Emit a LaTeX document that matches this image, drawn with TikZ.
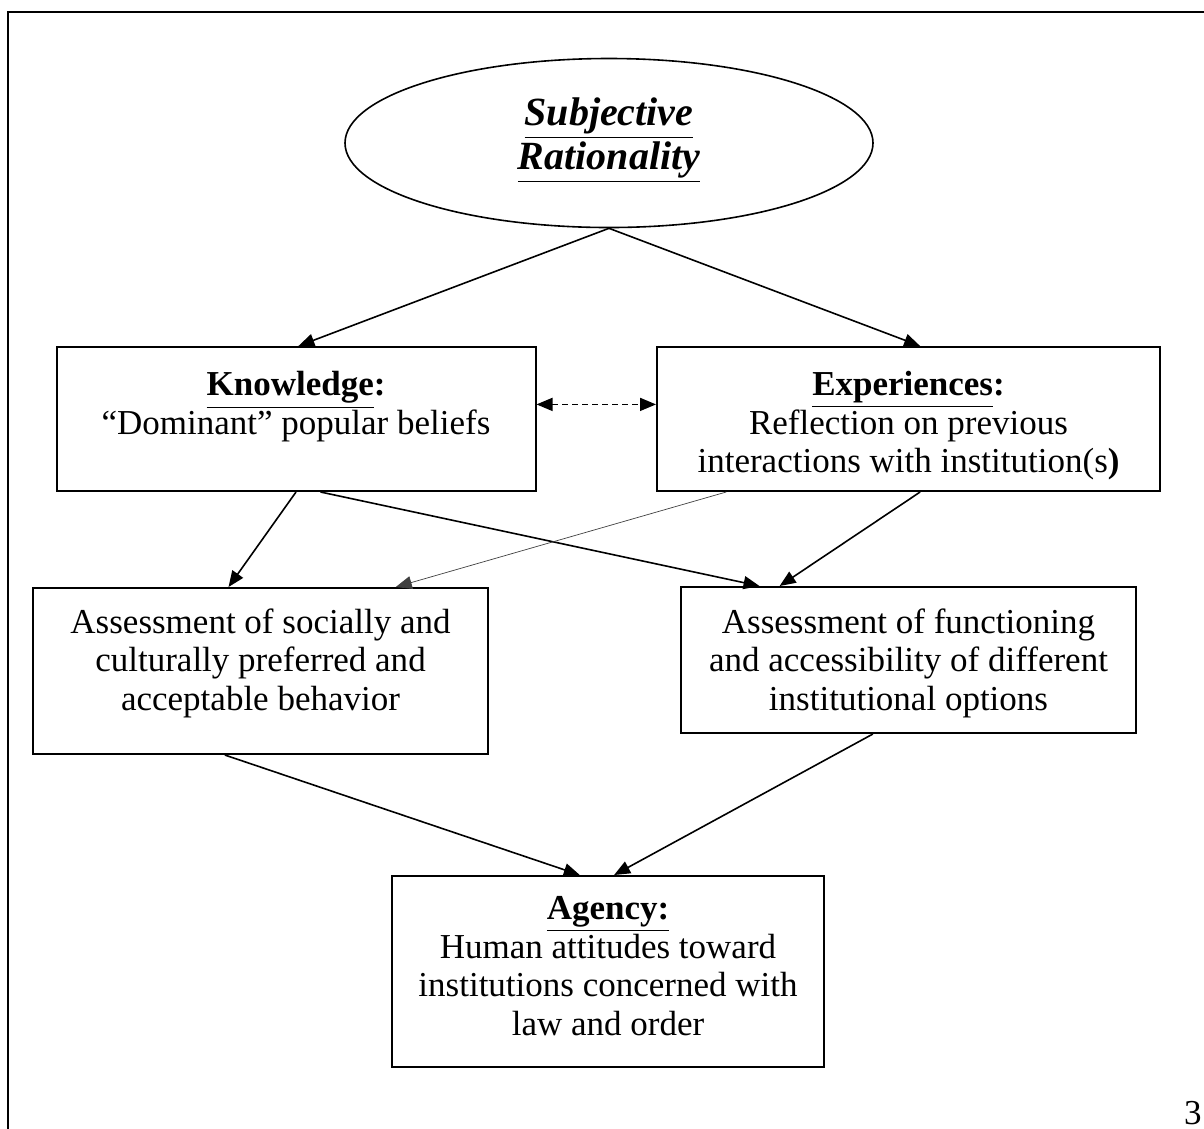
\documentclass[tikz,border=0pt]{standalone}
\usepackage{fontspec}
\setmainfont{Liberation Serif}
\usetikzlibrary{arrows.meta,calc,shapes.geometric}
\newcommand\pxu{0.4pt}
\tikzset{
  box/.style={draw, line width=2*\pxu, inner sep=0pt},
  txt/.style={align=center, inner sep=0pt, anchor=north, font=\fontsize{14pt}{15.4pt}\selectfont},
  arr/.style={line width=1.6*\pxu, -{Triangle[length=16*\pxu, width=13*\pxu]}},
  thinarr/.style={line width=0.7*\pxu, draw=black!75, -{Triangle[length=16*\pxu, width=13*\pxu]}},
  dasharr/.style={line width=1.6*\pxu, dash pattern=on 6*\pxu off 4*\pxu, {Triangle[length=16*\pxu, width=13*\pxu]}-{Triangle[length=16*\pxu, width=13*\pxu]}},
}
\begin{document}
\begin{tikzpicture}[x=\pxu, y=-\pxu]
\useasboundingbox (0,0) rectangle (1204,1128);
\clip (0,0) rectangle (1204,1128);
% frame
\draw[line width=2*\pxu] (8,1140) -- (8,12) -- (1220,12);
% nodes
\node[draw, ellipse, line width=1.6*\pxu, inner sep=0pt, minimum width=528*\pxu, minimum height=169*\pxu] (rat) at (609,143) {};
\node[txt, font=\fontsize{16pt}{16.5pt}\selectfont\bfseries\itshape] (ratT) at (609,97) {\underline{Subjective}\\\underline{Rationality}};

\node[box, minimum width=479*\pxu, minimum height=144*\pxu] (know) at (296,419) {};
\node[txt] (knowT) at (296,371) {\textbf{\underline{Knowledge}:}\\“Dominant” popular beliefs};

\node[box, minimum width=503*\pxu, minimum height=144*\pxu] (exp) at (908.5,419) {};
\node[txt] (expT) at (908.5,371) {\textbf{\underline{Experiences}:}\\Reflection on previous\\interactions with institution(s\textbf{)}};

\node[box, minimum width=455*\pxu, minimum height=166*\pxu] (soc) at (260.5,671) {};
\node[txt] (socT) at (260.5,608) {Assessment of socially and\\culturally preferred and\\acceptable behavior};

\node[box, minimum width=455*\pxu, minimum height=146*\pxu] (fun) at (908.5,660) {};
\node[txt] (funT) at (908.5,608) {Assessment of functioning\\and accessibility of different\\institutional options};

\node[box, minimum width=432*\pxu, minimum height=191*\pxu] (agc) at (608,971.5) {};
\node[txt] (agcT) at (608,896) {\textbf{\underline{Agency:}}\\Human attitudes toward\\institutions concerned with\\law and order};

\node[inner sep=0pt, anchor=base east, font=\fontsize{14pt}{15pt}\selectfont] (pg) at (1202,1124) {3};

% connectors
\draw[arr] (rat.south) -- ($(know.north west)!0.505!(know.north east)$);
\draw[arr] (rat.south) -- ($(exp.north west)!0.523!(exp.north east)$);
\draw[dasharr] ($(know.north east)!0.40!(know.south east)$) -- ($(exp.north west)!0.40!(exp.south west)$);
\draw[arr] ($(know.south west)!0.50!(know.south east)$) -- ($(soc.north west)!0.43!(soc.north east)$);
\draw[arr] ($(know.south west)!0.551!(know.south east)$) -- ($(fun.north west)!0.174!(fun.north east)$);
\draw[thinarr] ($(exp.south west)!0.139!(exp.south east)$) -- ($(soc.north west)!0.796!(soc.north east)$);
\draw[arr] ($(exp.south west)!0.523!(exp.south east)$) -- ($(fun.north west)!0.218!(fun.north east)$);
\draw[arr] ($(soc.south west)!0.422!(soc.south east)$) -- ($(agc.north west)!0.435!(agc.north east)$);
\draw[arr] ($(fun.south west)!0.422!(fun.south east)$) -- ($(agc.north west)!0.514!(agc.north east)$);
\end{tikzpicture}
\end{document}
